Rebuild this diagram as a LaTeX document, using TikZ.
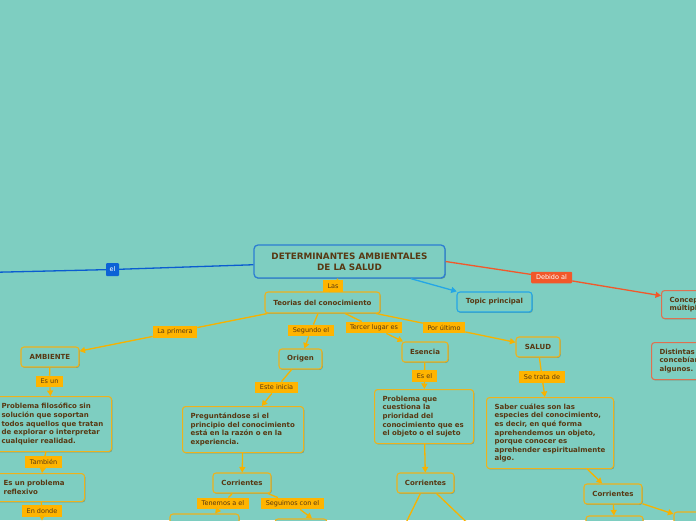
\documentclass[tikz,border=0pt]{standalone}
\usepackage{fontspec}
\setmainfont{DejaVu Sans}
\usetikzlibrary{arrows.meta,shadows}
\definecolor{bg}{RGB}{126,206,193}
\definecolor{boxor}{RGB}{238,178,28}
\definecolor{lineor}{RGB}{247,178,0}
\definecolor{laborange}{RGB}{255,180,0}
\definecolor{txt}{RGB}{88,56,18}
\definecolor{mainblue}{RGB}{44,126,210}
\definecolor{lineblue}{RGB}{10,92,208}
\definecolor{elblue}{RGB}{12,98,214}
\definecolor{topicblue}{RGB}{36,166,230}
\definecolor{redline}{RGB}{242,88,42}
\definecolor{redbox}{RGB}{222,112,80}
\tikzset{
  box/.style={draw=boxor, line width=1.1pt, rounded corners=3pt, fill=bg, text=txt,
    font=\fontsize{7}{8.6}\selectfont\bfseries, inner sep=0pt,
    drop shadow={shadow xshift=0.8pt,shadow yshift=-0.9pt,fill=black,opacity=0.22}},
  mbox/.style={box, align=left, inner xsep=8pt, anchor=north west},
  lab/.style={fill=laborange, text=txt, font=\fontsize{6.5}{7}\selectfont,
    inner xsep=4.5pt, inner ysep=0pt, minimum height=11.5pt},
  con/.style={draw=lineor, line width=1.3pt},
  arr/.style={con, -{Triangle[length=5.5pt,width=6pt]}},
}
\begin{document}
\begin{tikzpicture}[x=1pt,y=-1pt]
\useasboundingbox (0,0) rectangle (696,520);
\clip (0,0) rectangle (696,520);
\fill[bg] (0,0) rectangle (696,520);

% main nodes
\node[box, draw=mainblue, line width=1.3pt, rounded corners=4pt, minimum width=191pt,
  minimum height=33pt, align=center, font=\fontsize{8.8}{11}\selectfont\bfseries]
  (main) at (349.5,261.5) {DETERMINANTES AMBIENTALES\\DE LA SALUD};
\node[box, draw=topicblue, minimum width=75pt, minimum height=20pt] (topic) at (494.5,302) {Topic principal};
\node[mbox, draw=redbox, text width=90pt, minimum height=28pt] (concepto) at (661,290) {Conceptos\\múltiples};
\node[mbox, draw=redbox, text width=90pt, minimum height=37pt] (distintas) at (651,342) {Distintas\\concebían\\algunos.};

\node[box, minimum width=115pt, minimum height=21pt] (teorias) at (322.5,302.5) {Teorias del conocimiento};
\node[box, minimum width=58pt, minimum height=20pt] (ambiente) at (50,357) {AMBIENTE};
\node[box, minimum width=43pt, minimum height=20pt] (origen) at (300.5,359) {Origen};
\node[box, minimum width=46pt, minimum height=20pt] (esencia) at (425,352) {Esencia};
\node[box, minimum width=44pt, minimum height=20pt] (salud) at (538,347) {SALUD};

\node[mbox, text width=102pt, minimum height=55pt] (probfil) at (-7,396)
  {Problema filosófico sin\\solución que soportan\\todos aquellos que tratan\\de explorar o interpretar\\cualquier realidad.};
\node[mbox, text width=73pt, minimum height=28pt] (esunprob) at (-5,473) {Es un problema\\reflexivo};
\node[mbox, text width=105pt, minimum height=46pt] (preg) at (182,406)
  {Preguntándose si el\\principio del conocimiento\\está en la razón o en la\\experiencia.};
\node[box, minimum width=58pt, minimum height=20pt] (corr1) at (242,483) {Corrientes};
\node[box, minimum width=69pt, minimum height=26pt] (bl1) at (204.5,527) {};
\node[box, minimum width=52pt, minimum height=26pt] (bl2) at (301,532) {};

\node[mbox, text width=83pt, minimum height=54pt] (probcuest) at (374,389)
  {Problema que\\cuestiona la\\prioridad del\\conocimiento que es\\el objeto o el sujeto};
\node[box, minimum width=57pt, minimum height=20pt] (corr2) at (425.5,483) {Corrientes};
\coordinate (c2a) at (400,535);
\coordinate (c2b) at (480,535);

\node[mbox, text width=111pt, minimum height=71pt] (saber) at (486,397)
  {Saber cuáles son las\\especies del conocimiento,\\es decir, en qué forma\\aprehendemos un objeto,\\porque conocer es\\aprehender espiritualmente\\algo.};
\node[box, minimum width=58pt, minimum height=20pt] (corr3) at (613,494) {Corrientes};
\node[box, minimum width=57pt, minimum height=26pt] (br1) at (614.5,529) {};
\node[box, minimum width=72pt, minimum height=28pt] (br2) at (710,526) {};

% labels
\node[lab] (las) at (333,286) {Las};
\node[lab] (lprim) at (175,332) {La primera};
\node[lab] (lseg) at (311,330.5) {Segundo el};
\node[lab] (lter) at (374,327.5) {Tercer lugar es};
\node[lab] (lult) at (444,327.5) {Por último};
\node[lab] (lesun) at (49.5,381.5) {Es un};
\node[lab] (ltamb) at (43.5,462) {También};
\node[lab] (lendonde) at (42,511) {En donde};
\node[lab] (leste) at (276.5,387.5) {Este inicia};
\node[lab] (lten) at (223,503.5) {Tenemos a el};
\node[lab] (lseg2) at (292.5,503.5) {Seguimos con el};
\node[lab] (lesel) at (424.5,376) {Es el};
\node[lab] (lsetrata) at (542,377) {Se trata de};
\node[lab, fill=elblue, text=white, minimum width=13pt, minimum height=13pt, inner xsep=0pt, rounded corners=1pt] (el) at (112.5,269.5) {el};
\node[lab, fill=redline, text=white, minimum width=41pt, rounded corners=1pt] (debido) at (551.5,277.5) {Debido al};

\coordinate (elend) at (-6,272.3);
\coordinate (endend) at (42,520.5);

% connectors
\draw[con, draw=lineblue] (main) -- (el) -- (elend);
\draw[arr, draw=topicblue] (main) -- (topic);
\draw[arr, draw=redline] (main.east) -- (debido) -- (concepto);
\draw[con] (main) -- (las) -- (teorias);
\draw[arr] (teorias) -- (lprim) -- (ambiente);
\draw[arr] (teorias) -- (lseg) -- (origen);
\draw[arr] (teorias) -- (lter) -- (esencia);
\draw[arr] (teorias) -- (lult) -- (salud);
\draw[arr] (ambiente) -- (lesun) -- (probfil);
\draw[arr] (probfil) -- (ltamb) -- (esunprob);
\draw[arr] (esunprob) -- (lendonde) -- (endend);
\draw[arr] (origen) -- (leste) -- (preg);
\draw[arr] (preg) -- (corr1);
\draw[arr] (corr1) -- (lten) -- (bl1);
\draw[arr] (corr1) -- (lseg2) -- ([xshift=11pt]bl2.north);
\draw[arr] (esencia) -- (lesel) -- (probcuest);
\draw[arr] (probcuest) -- (corr2);
\draw[con] (corr2) -- (c2a);
\draw[con] (corr2) -- (c2b);
\draw[arr] (salud) -- (lsetrata) -- (saber);
\draw[arr] (saber) -- (corr3);
\draw[arr] (corr3) -- (br1);
\draw[arr] (corr3) -- (br2);
\end{tikzpicture}
\end{document}
